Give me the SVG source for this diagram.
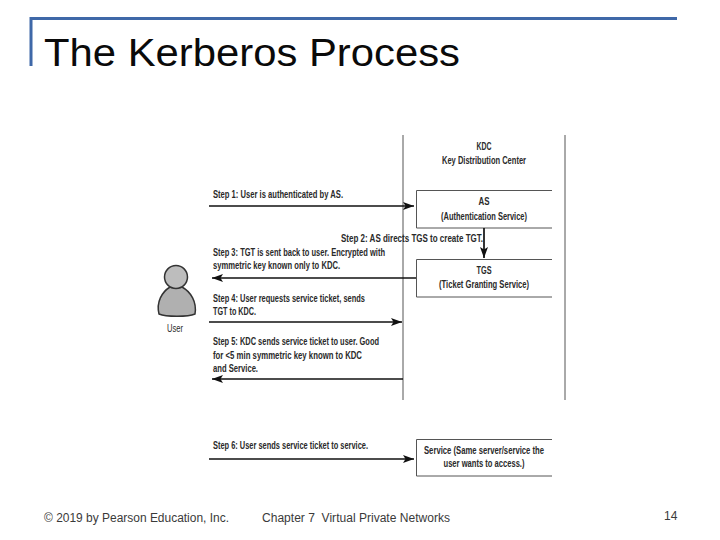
<svg xmlns="http://www.w3.org/2000/svg" width="720" height="540" viewBox="0 0 720 540">
<style>
.t{font-family:"Liberation Sans",Arial,sans-serif;font-size:11.500px;fill:#2a2a2a;font-weight:bold;stroke:none}
.m{text-anchor:middle}
.f{font-family:"Liberation Sans",Arial,sans-serif;font-size:12px;fill:#3a3a3a}
.b{fill:none;stroke:#555;stroke-width:1}
.a{stroke:#111;stroke-width:1.700;fill:none}
</style>
<defs>
<marker id="h" markerUnits="userSpaceOnUse" markerWidth="12" markerHeight="10" refX="11" refY="5" orient="auto-start-reverse"><path d="M0 1 L11 5 L0 9 L2.500 5Z" fill="#111"/></marker>
</defs>
<rect width="720" height="540" fill="#fff"/>
<g id="frame"><path d="M677 18.500H31V66" fill="none" stroke="#3f68a8" stroke-width="3"/></g>
<text id="title" x="44" y="66" font-family="'Liberation Sans',Arial,sans-serif" font-size="39" fill="#0a0a0a" textLength="416" lengthAdjust="spacingAndGlyphs">The Kerberos Process</text>
<g id="kdc">
<path d="M403 135V400M565 135V400" class="b"/>
<text class="t m" x="484" y="150" textLength="15" lengthAdjust="spacingAndGlyphs">KDC</text>
<text class="t m" x="484" y="164" textLength="84" lengthAdjust="spacingAndGlyphs">Key Distribution Center</text>
</g>
<g id="as">
<path d="M552 190.500H416.500V228H552" class="b"/>
<text class="t m" x="484" y="205" textLength="11" lengthAdjust="spacingAndGlyphs">AS</text>
<text class="t m" x="484" y="220" textLength="86" lengthAdjust="spacingAndGlyphs">(Authentication Service)</text>
</g>
<g id="tgs">
<path d="M552 259.500H416.500V297H552" class="b"/>
<text class="t m" x="484" y="274" textLength="15" lengthAdjust="spacingAndGlyphs">TGS</text>
<text class="t m" x="484" y="288" textLength="90" lengthAdjust="spacingAndGlyphs">(Ticket Granting Service)</text>
</g>
<g id="service">
<path d="M552 439.500H416.500V476H552" class="b"/>
<text class="t m" x="484" y="454" textLength="120" lengthAdjust="spacingAndGlyphs">Service (Same server/service the</text>
<text class="t m" x="484" y="467" textLength="81" lengthAdjust="spacingAndGlyphs">user wants to access.)</text>
</g>
<g id="user">
<path d="M159 314 C156 302 162 292 170 287 L182 287 C191 292 197 302 195 314 C188 317 166 317 159 314Z" fill="#b0b0b0" stroke="#333" stroke-width="1.500"/>
<circle cx="176" cy="277" r="11.500" fill="#bdbdbd" stroke="#333" stroke-width="1.500"/>
<text class="t m" x="175" y="332" textLength="16" lengthAdjust="spacingAndGlyphs" style="font-weight:normal">User</text>
</g>
<g id="connectors">
<path class="a" d="M209 206H414" marker-end="url(#h)"/>
<path class="a" d="M484 228V258" marker-end="url(#h)"/>
<path class="a" d="M416 278H212" marker-end="url(#h)"/>
<path class="a" d="M209 322H402" marker-end="url(#h)"/>
<path class="a" d="M403 379H212" marker-end="url(#h)"/>
<path class="a" d="M209 459H414" marker-end="url(#h)"/>
</g>
<g id="labels">
<text class="t" x="213" y="198" textLength="130" lengthAdjust="spacingAndGlyphs">Step 1: User is authenticated by AS.</text>
<text class="t" x="341" y="242" textLength="142" lengthAdjust="spacingAndGlyphs">Step 2: AS directs TGS to create TGT.</text>
<text class="t" x="213" y="256" textLength="172" lengthAdjust="spacingAndGlyphs">Step 3: TGT is sent back to user. Encrypted with</text>
<text class="t" x="213" y="269" textLength="127" lengthAdjust="spacingAndGlyphs">symmetric key known only to KDC.</text>
<text class="t" x="213" y="302" textLength="152" lengthAdjust="spacingAndGlyphs">Step 4: User requests service ticket, sends</text>
<text class="t" x="213" y="315" textLength="43" lengthAdjust="spacingAndGlyphs">TGT to KDC.</text>
<text class="t" x="213" y="345" textLength="166" lengthAdjust="spacingAndGlyphs">Step 5: KDC sends service ticket to user. Good</text>
<text class="t" x="213" y="359" textLength="149" lengthAdjust="spacingAndGlyphs">for &lt;5 min symmetric key known to KDC</text>
<text class="t" x="213" y="372" textLength="45" lengthAdjust="spacingAndGlyphs">and Service.</text>
<text class="t" x="213" y="449" textLength="155" lengthAdjust="spacingAndGlyphs">Step 6: User sends service ticket to service.</text>
</g>
<g id="footer">
<text class="f" x="44" y="522" textLength="185" lengthAdjust="spacingAndGlyphs">© 2019 by Pearson Education, Inc.</text>
<text class="f" x="262" y="522" textLength="188" lengthAdjust="spacingAndGlyphs" xml:space="preserve">Chapter 7  Virtual Private Networks</text>
<text class="f" x="664" y="520">14</text>
</g>
</svg>
